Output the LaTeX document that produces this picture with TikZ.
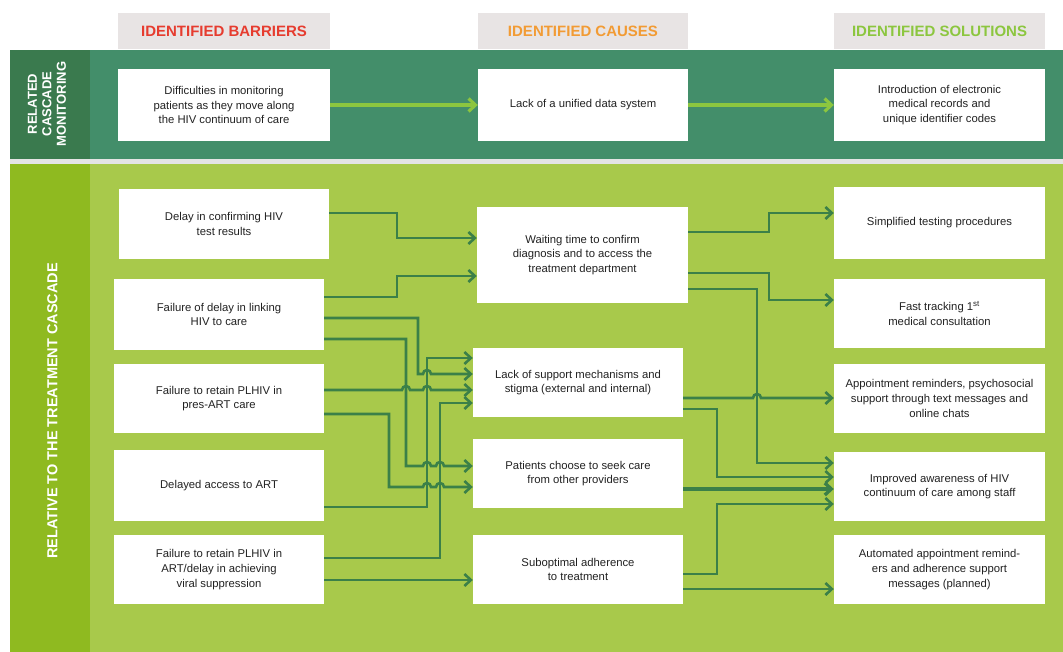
\documentclass[tikz,border=0pt]{standalone}
\usepackage{fontspec}
\setmainfont{Liberation Sans}
\usetikzlibrary{arrows.meta,calc}
\definecolor{topband}{HTML}{438E6A}
\definecolor{topstrip}{HTML}{3A7A4E}
\definecolor{gapgray}{HTML}{E4E4E4}
\definecolor{lowband}{HTML}{A8C94B}
\definecolor{lowstrip}{HTML}{8FBA20}
\definecolor{arrgreen}{HTML}{3B8048}
\definecolor{lightarr}{HTML}{8CC63F}
\definecolor{headgray}{HTML}{E8E4E4}
\definecolor{hred}{HTML}{E63C2F}
\definecolor{horange}{HTML}{F29B34}
\definecolor{hgreen}{HTML}{8CC63F}
\definecolor{txt}{HTML}{222222}
\begin{document}
\begin{tikzpicture}[x=1pt,y=-1pt,
  box/.style={fill=white, inner sep=2pt, align=center, text=txt,
    font=\fontsize{11.3}{14.8}\selectfont},
  headbox/.style={fill=headgray, inner sep=0pt, minimum height=36pt,
    font=\fontsize{15}{17}\selectfont\bfseries},
  striplabel/.style={rotate=90, text=white, align=center,
    font=\fontsize{13}{14.5}\selectfont\bfseries},
  conn/.style={draw=arrgreen, line width=2.6pt,
    -{Straight Barb[length=6.5pt,width=12pt]}},
  topconn/.style={draw=lightarr, line width=3.1pt,
    -{Straight Barb[length=7pt,width=13pt]}}]
\useasboundingbox (0,0) rectangle (1063,652);
\fill[white] (0,0) rectangle (1063,652);
% bands
\fill[topband] (10,50) rectangle (1063,159);
\fill[topstrip] (10,50) rectangle (90,159);
\fill[gapgray] (10,159) rectangle (1063,164);
\fill[lowband] (10,164) rectangle (1063,652);
\fill[lowstrip] (10,164) rectangle (90,652);
% headers
\node[headbox, minimum width=212pt, text=hred] (h1) at (224,31.5) {IDENTIFIED BARRIERS};
\node[headbox, minimum width=210pt, text=horange] (h2) at (583,31.5) {IDENTIFIED CAUSES};
\node[headbox, minimum width=211pt, text=hgreen] (h3) at (939.5,31.5) {IDENTIFIED SOLUTIONS};
% strip labels
\node[striplabel] (l1) at (47,104) {RELATED\\CASCADE\\MONITORING};
\node[striplabel, font=\fontsize{14.5}{16}\selectfont\bfseries] (l2) at (52.5,411) {RELATIVE TO THE TREATMENT CASCADE};
% top row
\node[box, minimum width=212pt, minimum height=72pt] (tb) at (224,105) {Difficulties in monitoring\\patients as they move along\\the HIV continuum of care};
\node[box, minimum width=210pt, minimum height=72pt] (tc) at (583,105) {Lack of a unified data system};
\node[box, minimum width=211pt, minimum height=72pt] (ts) at (939.5,105) {Introduction of electronic\\medical records and\\unique identifier codes};
% barriers
\node[box, minimum width=210pt, minimum height=70pt] (b1) at (224,224) {Delay in confirming HIV\\test results};
\node[box, minimum width=210pt, minimum height=71pt] (b2) at (219,314.5) {Failure of delay in linking\\HIV to care};
\node[box, minimum width=210pt, minimum height=69pt] (b3) at (219,398.5) {Failure to retain PLHIV in\\pres-ART care};
\node[box, minimum width=210pt, minimum height=71pt] (b4) at (219,485.5) {Delayed access to ART};
\node[box, minimum width=210pt, minimum height=69pt] (b5) at (219,569.5) {Failure to retain PLHIV in\\ART/delay in achieving\\viral suppression};
% causes
\node[box, minimum width=211pt, minimum height=96pt] (c1) at (582.5,255) {Waiting time to confirm\\diagnosis and to access the\\treatment department};
\node[box, minimum width=210pt, minimum height=69pt] (c2) at (578,382.5) {Lack of support mechanisms and\\stigma (external and internal)};
\node[box, minimum width=210pt, minimum height=69pt] (c3) at (578,473.5) {Patients choose to seek care\\from other providers};
\node[box, minimum width=210pt, minimum height=69pt] (c4) at (578,569.5) {Suboptimal adherence\\to treatment};
% solutions
\node[box, minimum width=211pt, minimum height=72pt] (s1) at (939.5,223) {Simplified testing procedures};
\node[box, minimum width=211pt, minimum height=69pt] (s2) at (939.5,313.5) {Fast tracking 1\textsuperscript{st}\\medical consultation};
\node[box, minimum width=211pt, minimum height=69pt] (s3) at (939.5,398.5) {Appointment reminders, psychosocial\\support through text messages and\\online chats};
\node[box, minimum width=211pt, minimum height=69pt] (s4) at (939.5,486.5) {Improved awareness of HIV\\continuum of care among staff};
\node[box, minimum width=211pt, minimum height=69pt] (s5) at (939.5,569.5) {Automated appointment remind-\\ers and adherence support\\messages (planned)};
% top connectors
\draw[topconn] (tb.east) -- (tc.west);
\draw[topconn] (tc.east) -- (ts.west);
% barriers -> causes
\draw[conn] ($(b1.east)+(0,-11)$) -| (397,238) -- ($(c1.west)+(0,-17)$);
\draw[conn] ($(b2.east)+(0,-17.5)$) -| (397,276) -- ($(c1.west)+(0,21)$);
\draw[conn] ($(b2.east)+(0,3.5)$) -| (418,374) -- (423,374)
  arc[start angle=180,end angle=0,radius=4pt] -- ($(c2.west)+(0,-8.5)$);
\draw[conn] ($(b2.east)+(0,24.5)$) -| (406,466) -- (423,466)
  arc[start angle=180,end angle=0,radius=4pt] -- (436,466)
  arc[start angle=180,end angle=0,radius=4pt] -- ($(c3.west)+(0,-7.5)$);
\draw[conn] ($(b3.east)+(0,-8.5)$) -- (402,390)
  arc[start angle=180,end angle=0,radius=4pt] -- (423,390)
  arc[start angle=180,end angle=0,radius=4pt] -- ($(c2.west)+(0,7.5)$);
\draw[conn] ($(b3.east)+(0,15.5)$) -| (389,487) -- (423,487)
  arc[start angle=180,end angle=0,radius=4pt] -- (436,487)
  arc[start angle=180,end angle=0,radius=4pt] -- ($(c3.west)+(0,13.5)$);
\draw[conn] ($(b4.east)+(0,21.5)$) -| (427,358) -- ($(c2.west)+(0,-24.5)$);
\draw[conn] ($(b5.east)+(0,-11.5)$) -| (440,403) -- ($(c2.west)+(0,20.5)$);
\draw[conn] ($(b5.east)+(0,10.5)$) -- ($(c4.west)+(0,10.5)$);
% causes -> solutions
\draw[conn] ($(c1.east)+(0,-23)$) -| (769,213) -- ($(s1.west)+(0,-10)$);
\draw[conn] ($(c1.east)+(0,18)$) -| (769,300) -- ($(s2.west)+(0,-13.5)$);
\draw[conn] ($(c1.east)+(0,34)$) -| (757,463) -- ($(s4.west)+(0,-23.5)$);
\draw[conn] ($(c2.east)+(0,15.5)$) -- (753,398)
  arc[start angle=180,end angle=0,radius=4pt] -- ($(s3.west)+(0,-0.5)$);
\draw[conn] ($(c2.east)+(0,26.5)$) -| (717,477) -- ($(s4.west)+(0,-9.5)$);
\draw[conn, line width=3.4pt] ($(c3.east)+(0,15.5)$) -- ($(s4.west)+(0,2.5)$);
\draw[conn] ($(c4.east)+(0,4.5)$) -| (717,504) -- ($(s4.west)+(0,17.5)$);
\draw[conn] ($(c4.east)+(0,19.5)$) -- ($(s5.west)+(0,19.5)$);
\end{tikzpicture}
\end{document}
